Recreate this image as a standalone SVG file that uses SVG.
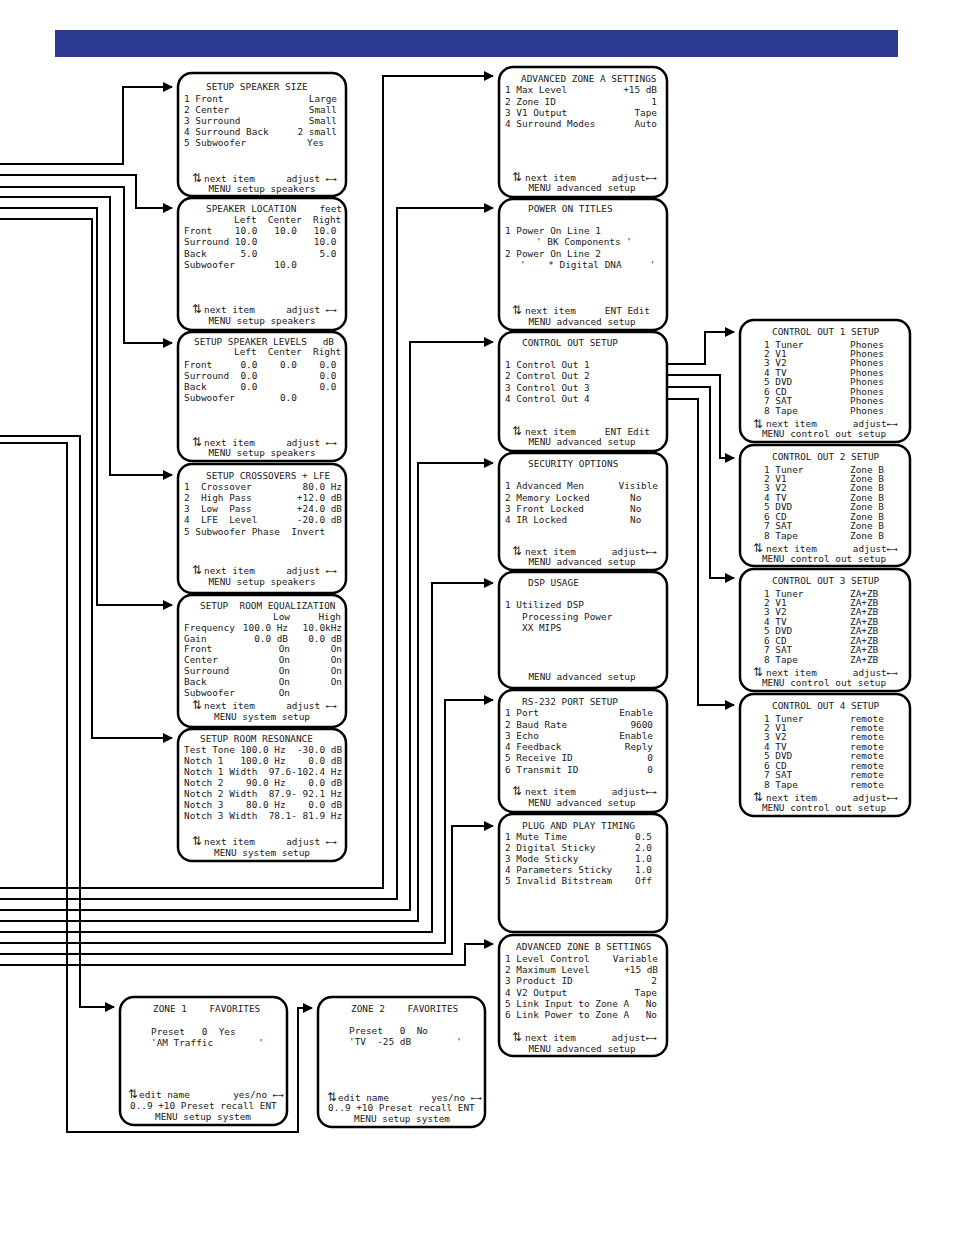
<svg xmlns="http://www.w3.org/2000/svg" width="954" height="1235" viewBox="0 0 954 1235">
<style>
.box{fill:#fff;stroke:#000;stroke-width:2.5}
text{font-family:"DejaVu Sans Mono","Liberation Mono",monospace;font-size:9.4px;fill:#1a1a1a;white-space:pre}
.e{text-anchor:end}
.m{text-anchor:middle}
.a{font-family:"DejaVu Sans",sans-serif;font-size:12px}
.c{fill:none;stroke:#000;stroke-width:2;marker-end:url(#ah)}
</style>
<defs>
<marker id="ah" viewBox="0 0 10 10" refX="9" refY="5" markerWidth="5" markerHeight="5" orient="auto" markerUnits="strokeWidth">
<path d="M0,0 L10,5 L0,10 z" fill="#000"/>
</marker>
</defs>
<rect x="55" y="30" width="843" height="27" fill="#2b3990"/>

<g id="connectors">
<path class="c" d="M0,164 H123 V87 H172"/>
<path class="c" d="M0,175 H136 V208 H172"/>
<path class="c" d="M0,187 H124 V343 H172"/>
<path class="c" d="M0,197 H110 V475 H172"/>
<path class="c" d="M0,208 H97 V605 H172"/>
<path class="c" d="M0,219 H92 V738 H172"/>
<path class="c" d="M0,436 H80 V1007 H114"/>
<path class="c" d="M0,443 H67 V1132 H298 V1008 H312"/>
<path class="c" d="M0,888 H383 V76 H493"/>
<path class="c" d="M0,899 H397 V208 H493"/>
<path class="c" d="M0,910 H410 V342 H493"/>
<path class="c" d="M0,921 H418 V463 H493"/>
<path class="c" d="M0,932 H432 V583 H493"/>
<path class="c" d="M0,943 H445 V700 H493"/>
<path class="c" d="M0,954 H452 V826 H493"/>
<path class="c" d="M0,965 H465 V944 H493"/>
<path class="c" d="M667,364 H705 V332 H734"/>
<path class="c" d="M667,375 H720 V458 H734"/>
<path class="c" d="M667,387 H710 V578 H734"/>
<path class="c" d="M667,399 H698 V705 H734"/>
</g>

<g id="speaker-size">
<rect class="box" x="178" y="73" width="168" height="123" rx="14"/>
<text x="206" y="89.5">SETUP SPEAKER SIZE</text>
<text x="184" y="101.5">1 Front</text><text class="e" x="337" y="101.5">Large</text>
<text x="184" y="112.5">2 Center</text><text class="e" x="337" y="112.5">Small</text>
<text x="184" y="123.5">3 Surround</text><text class="e" x="337" y="123.5">Small</text>
<text x="184" y="134.5">4 Surround Back</text><text class="e" x="337" y="134.5">2 small</text>
<text x="184" y="145.5">5 Subwoofer</text><text x="307" y="145.5">Yes</text>
<text class="a" x="192" y="182">⇅</text><text x="204" y="181.5">next item</text><text class="e" x="337" y="181.5">adjust ←→</text>
<text class="m" x="262" y="191.5">MENU setup speakers</text>
</g>

<g id="speaker-location">
<rect class="box" x="178" y="198" width="168" height="132" rx="14"/>
<text x="206" y="211.5">SPEAKER LOCATION</text><text class="e" x="342" y="211.5">feet</text>
<text x="234" y="222.5">Left  Center  Right</text>
<text x="184" y="233.5">Front    10.0   10.0   10.0</text>
<text x="184" y="244.5">Surround 10.0          10.0</text>
<text x="184" y="256.5">Back      5.0           5.0</text>
<text x="184" y="267.5">Subwoofer       10.0</text>
<text class="a" x="192" y="313">⇅</text><text x="204" y="312.5">next item</text><text class="e" x="337" y="312.5">adjust ←→</text>
<text class="m" x="262" y="324">MENU setup speakers</text>
</g>

<g id="speaker-levels">
<rect class="box" x="178" y="332" width="168" height="129" rx="14"/>
<text x="194" y="344.5">SETUP SPEAKER LEVELS</text><text class="e" x="334" y="344.5">dB</text>
<text x="234" y="354.5">Left  Center  Right</text>
<text x="184" y="367.5">Front     0.0    0.0    0.0</text>
<text x="184" y="378.5">Surround  0.0           0.0</text>
<text x="184" y="389.5">Back      0.0           0.0</text>
<text x="184" y="400.5">Subwoofer        0.0</text>
<text class="a" x="192" y="446">⇅</text><text x="204" y="445.5">next item</text><text class="e" x="337" y="445.5">adjust ←→</text>
<text class="m" x="262" y="456">MENU setup speakers</text>
</g>

<g id="crossovers">
<rect class="box" x="178" y="464" width="168" height="129" rx="14"/>
<text x="206" y="478.5">SETUP CROSSOVERS + LFE</text>
<text x="184" y="489.5">1  Crossover</text><text class="e" x="342" y="489.5">80.0 Hz</text>
<text x="184" y="500.5">2  High Pass</text><text class="e" x="342" y="500.5">+12.0 dB</text>
<text x="184" y="511.5">3  Low  Pass</text><text class="e" x="342" y="511.5">+24.0 dB</text>
<text x="184" y="522.5">4  LFE  Level</text><text class="e" x="342" y="522.5">-20.0 dB</text>
<text x="184" y="534.5">5 Subwoofer Phase  Invert</text>
<text class="a" x="192" y="574">⇅</text><text x="204" y="573.5">next item</text><text class="e" x="337" y="573.5">adjust ←→</text>
<text class="m" x="262" y="584.5">MENU setup speakers</text>
</g>

<g id="room-eq">
<rect class="box" x="178" y="595" width="168" height="132" rx="14"/>
<text x="200" y="608.5">SETUP  ROOM EQUALIZATION</text>
<text class="e" x="290" y="619.5">Low</text><text class="e" x="341" y="619.5">High</text>
<text x="184" y="630.5">Frequency</text><text class="e" x="288" y="630.5">100.0 Hz</text><text class="e" x="342" y="630.5">10.0kHz</text>
<text x="184" y="641.5">Gain</text><text class="e" x="288" y="641.5">0.0 dB</text><text class="e" x="342" y="641.5">0.0 dB</text>
<text x="184" y="651.5">Front</text><text class="e" x="290" y="651.5">On</text><text class="e" x="342" y="651.5">On</text>
<text x="184" y="662.5">Center</text><text class="e" x="290" y="662.5">On</text><text class="e" x="342" y="662.5">On</text>
<text x="184" y="673.5">Surround</text><text class="e" x="290" y="673.5">On</text><text class="e" x="342" y="673.5">On</text>
<text x="184" y="684.5">Back</text><text class="e" x="290" y="684.5">On</text><text class="e" x="342" y="684.5">On</text>
<text x="184" y="695.5">Subwoofer</text><text class="e" x="290" y="695.5">On</text>
<text class="a" x="192" y="709">⇅</text><text x="204" y="708.5">next item</text><text class="e" x="337" y="708.5">adjust ←→</text>
<text class="m" x="262" y="719.5">MENU system setup</text>
</g>

<g id="room-resonance">
<rect class="box" x="178" y="729" width="168" height="132" rx="14"/>
<text x="200" y="741.5">SETUP ROOM RESONANCE</text>
<text x="184" y="752.5">Test Tone 100.0 Hz  -30.0 dB</text>
<text x="184" y="763.5">Notch 1   100.0 Hz    0.0 dB</text>
<text x="184" y="774.5">Notch 1 Width  97.6-102.4 Hz</text>
<text x="184" y="785.5">Notch 2    90.0 Hz    0.0 dB</text>
<text x="184" y="796.5">Notch 2 Width  87.9- 92.1 Hz</text>
<text x="184" y="807.5">Notch 3    80.0 Hz    0.0 dB</text>
<text x="184" y="818.5">Notch 3 Width  78.1- 81.9 Hz</text>
<text class="a" x="192" y="845">⇅</text><text x="204" y="844.5">next item</text><text class="e" x="337" y="844.5">adjust ←→</text>
<text class="m" x="262" y="855.5">MENU system setup</text>
</g>

<g id="zone1-favorites">
<rect class="box" x="120" y="997" width="167" height="128" rx="14"/>
<text x="153" y="1011.5">ZONE 1    FAVORITES</text>
<text x="151" y="1034.5">Preset   0  Yes</text>
<text x="151" y="1045.5">'AM Traffic        '</text>
<text class="a" x="128" y="1098">⇅</text><text x="139" y="1097.5">edit name</text><text class="e" x="284" y="1097.5">yes/no ←→</text>
<text x="130" y="1109">0..9 +10 Preset recall ENT</text>
<text class="m" x="203" y="1119.5">MENU setup system</text>
</g>

<g id="zone2-favorites">
<rect class="box" x="318" y="997" width="167" height="130" rx="14"/>
<text x="351" y="1011.5">ZONE 2    FAVORITES</text>
<text x="349" y="1033.5">Preset   0  No</text>
<text x="349" y="1044.5">'TV  -25 dB        '</text>
<text class="a" x="327" y="1101">⇅</text><text x="338" y="1100.5">edit name</text><text class="e" x="482" y="1100.5">yes/no ←→</text>
<text x="328" y="1111">0..9 +10 Preset recall ENT</text>
<text class="m" x="402" y="1121.5">MENU setup system</text>
</g>

<g id="adv-zone-a">
<rect class="box" x="499" y="67" width="168" height="130" rx="14"/>
<text x="521" y="81.5">ADVANCED ZONE A SETTINGS</text>
<text x="505" y="92.5">1 Max Level</text><text class="e" x="657" y="92.5">+15 dB</text>
<text x="505" y="104.5">2 Zone ID</text><text class="e" x="657" y="104.5">1</text>
<text x="505" y="115.5">3 V1 Output</text><text class="e" x="657" y="115.5">Tape</text>
<text x="505" y="126.5">4 Surround Modes</text><text class="e" x="657" y="126.5">Auto</text>
<text class="a" x="512" y="181">⇅</text><text x="525" y="180.5">next item</text><text class="e" x="657" y="180.5">adjust←→</text>
<text class="m" x="582" y="191">MENU advanced setup</text>
</g>

<g id="power-on-titles">
<rect class="box" x="499" y="199" width="168" height="131" rx="14"/>
<text x="528" y="211.5">POWER ON TITLES</text>
<text x="505" y="233.5">1 Power On Line 1</text>
<text x="536" y="244.5">' BK Components '</text>
<text x="505" y="256.5">2 Power On Line 2</text>
<text x="520" y="267.5">'    * Digital DNA     '</text>
<text class="a" x="512" y="314">⇅</text><text x="525" y="313.5">next item</text><text class="e" x="650" y="313.5">ENT Edit</text>
<text class="m" x="582" y="324.5">MENU advanced setup</text>
</g>

<g id="control-out-setup">
<rect class="box" x="499" y="332" width="168" height="119" rx="14"/>
<text x="522" y="345.5">CONTROL OUT SETUP</text>
<text x="505" y="367.5">1 Control Out 1</text>
<text x="505" y="378.5">2 Control Out 2</text>
<text x="505" y="390.5">3 Control Out 3</text>
<text x="505" y="401.5">4 Control Out 4</text>
<text class="a" x="512" y="435">⇅</text><text x="525" y="434.5">next item</text><text class="e" x="650" y="434.5">ENT Edit</text>
<text class="m" x="582" y="445">MENU advanced setup</text>
</g>

<g id="security-options">
<rect class="box" x="499" y="453" width="168" height="117" rx="14"/>
<text x="528" y="466.5">SECURITY OPTIONS</text>
<text x="505" y="488.5">1 Advanced Men</text><text class="e" x="658" y="488.5">Visible</text>
<text x="505" y="500.5">2 Memory Locked</text><text x="630" y="500.5">No</text>
<text x="505" y="511.5">3 Front Locked</text><text x="630" y="511.5">No</text>
<text x="505" y="522.5">4 IR Locked</text><text x="630" y="522.5">No</text>
<text class="a" x="512" y="555">⇅</text><text x="525" y="554.5">next item</text><text class="e" x="657" y="554.5">adjust←→</text>
<text class="m" x="582" y="565">MENU advanced setup</text>
</g>

<g id="dsp-usage">
<rect class="box" x="499" y="572" width="168" height="116" rx="14"/>
<text x="528" y="585.5">DSP USAGE</text>
<text x="505" y="607.5">1 Utilized DSP</text>
<text x="522" y="619.5">Processing Power</text>
<text x="522" y="630.5">XX MIPS</text>
<text class="m" x="582" y="680">MENU advanced setup</text>
</g>

<g id="rs232-setup">
<rect class="box" x="499" y="690" width="168" height="122" rx="14"/>
<text x="522" y="704.5">RS-232 PORT SETUP</text>
<text x="505" y="715.5">1 Port</text><text class="e" x="653" y="715.5">Enable</text>
<text x="505" y="727.5">2 Baud Rate</text><text class="e" x="653" y="727.5">9600</text>
<text x="505" y="738.5">3 Echo</text><text class="e" x="653" y="738.5">Enable</text>
<text x="505" y="749.5">4 Feedback</text><text class="e" x="653" y="749.5">Reply</text>
<text x="505" y="760.5">5 Receive ID</text><text class="e" x="653" y="760.5">0</text>
<text x="505" y="772.5">6 Transmit ID</text><text class="e" x="653" y="772.5">0</text>
<text class="a" x="512" y="795">⇅</text><text x="525" y="794.5">next item</text><text class="e" x="657" y="794.5">adjust←→</text>
<text class="m" x="582" y="805.5">MENU advanced setup</text>
</g>

<g id="plug-and-play">
<rect class="box" x="499" y="814" width="168" height="118" rx="14"/>
<text x="522" y="828.5">PLUG AND PLAY TIMING</text>
<text x="505" y="839.5">1 Mute Time</text><text class="e" x="652" y="839.5">0.5</text>
<text x="505" y="850.5">2 Digital Sticky</text><text class="e" x="652" y="850.5">2.0</text>
<text x="505" y="861.5">3 Mode Sticky</text><text class="e" x="652" y="861.5">1.0</text>
<text x="505" y="872.5">4 Parameters Sticky</text><text class="e" x="652" y="872.5">1.0</text>
<text x="505" y="883.5">5 Invalid Bitstream</text><text class="e" x="652" y="883.5">Off</text>
</g>

<g id="adv-zone-b">
<rect class="box" x="499" y="935" width="168" height="121" rx="14"/>
<text x="516" y="949.5">ADVANCED ZONE B SETTINGS</text>
<text x="505" y="961.5">1 Level Control</text><text class="e" x="658" y="961.5">Variable</text>
<text x="505" y="972.5">2 Maximum Level</text><text class="e" x="658" y="972.5">+15 dB</text>
<text x="505" y="983.5">3 Product ID</text><text class="e" x="657" y="983.5">2</text>
<text x="505" y="995.5">4 V2 Output</text><text class="e" x="657" y="995.5">Tape</text>
<text x="505" y="1006.5">5 Link Input to Zone A</text><text class="e" x="657" y="1006.5">No</text>
<text x="505" y="1017.5">6 Link Power to Zone A</text><text class="e" x="657" y="1017.5">No</text>
<text class="a" x="512" y="1041">⇅</text><text x="525" y="1040.5">next item</text><text class="e" x="657" y="1040.5">adjust←→</text>
<text class="m" x="582" y="1051.5">MENU advanced setup</text>
</g>

<g id="control-out-1">
<rect class="box" x="740" y="320" width="170" height="122" rx="14"/>
<text x="772" y="334.5">CONTROL OUT 1 SETUP</text>
<text x="764" y="347.5">1 Tuner</text><text x="850" y="347.5">Phones</text>
<text x="764" y="356.9">2 V1</text><text x="850" y="356.9">Phones</text>
<text x="764" y="366.4">3 V2</text><text x="850" y="366.4">Phones</text>
<text x="764" y="375.8">4 TV</text><text x="850" y="375.8">Phones</text>
<text x="764" y="385.3">5 DVD</text><text x="850" y="385.3">Phones</text>
<text x="764" y="394.7">6 CD</text><text x="850" y="394.7">Phones</text>
<text x="764" y="404.2">7 SAT</text><text x="850" y="404.2">Phones</text>
<text x="764" y="413.6">8 Tape</text><text x="850" y="413.6">Phones</text>
<text class="a" x="753" y="427.5">⇅</text><text x="766" y="427">next item</text><text class="e" x="898" y="427">adjust←→</text>
<text class="m" x="824" y="437">MENU control out setup</text>
</g>

<g id="control-out-2">
<rect class="box" x="740" y="445" width="170" height="121" rx="14"/>
<text x="772" y="459.5">CONTROL OUT 2 SETUP</text>
<text x="764" y="472.5">1 Tuner</text><text x="850" y="472.5">Zone B</text>
<text x="764" y="481.9">2 V1</text><text x="850" y="481.9">Zone B</text>
<text x="764" y="491.4">3 V2</text><text x="850" y="491.4">Zone B</text>
<text x="764" y="500.8">4 TV</text><text x="850" y="500.8">Zone B</text>
<text x="764" y="510.3">5 DVD</text><text x="850" y="510.3">Zone B</text>
<text x="764" y="519.7">6 CD</text><text x="850" y="519.7">Zone B</text>
<text x="764" y="529.2">7 SAT</text><text x="850" y="529.2">Zone B</text>
<text x="764" y="538.6">8 Tape</text><text x="850" y="538.6">Zone B</text>
<text class="a" x="753" y="552">⇅</text><text x="766" y="551.5">next item</text><text class="e" x="898" y="551.5">adjust←→</text>
<text class="m" x="824" y="561.5">MENU control out setup</text>
</g>

<g id="control-out-3">
<rect class="box" x="740" y="569" width="170" height="122" rx="14"/>
<text x="772" y="583.5">CONTROL OUT 3 SETUP</text>
<text x="764" y="596.5">1 Tuner</text><text x="850" y="596.5">ZA+ZB</text>
<text x="764" y="605.9">2 V1</text><text x="850" y="605.9">ZA+ZB</text>
<text x="764" y="615.4">3 V2</text><text x="850" y="615.4">ZA+ZB</text>
<text x="764" y="624.8">4 TV</text><text x="850" y="624.8">ZA+ZB</text>
<text x="764" y="634.3">5 DVD</text><text x="850" y="634.3">ZA+ZB</text>
<text x="764" y="643.7">6 CD</text><text x="850" y="643.7">ZA+ZB</text>
<text x="764" y="653.2">7 SAT</text><text x="850" y="653.2">ZA+ZB</text>
<text x="764" y="662.6">8 Tape</text><text x="850" y="662.6">ZA+ZB</text>
<text class="a" x="753" y="676">⇅</text><text x="766" y="675.5">next item</text><text class="e" x="898" y="675.5">adjust←→</text>
<text class="m" x="824" y="685.5">MENU control out setup</text>
</g>

<g id="control-out-4">
<rect class="box" x="740" y="694" width="170" height="122" rx="14"/>
<text x="772" y="708.5">CONTROL OUT 4 SETUP</text>
<text x="764" y="721.5">1 Tuner</text><text x="850" y="721.5">remote</text>
<text x="764" y="730.9">2 V1</text><text x="850" y="730.9">remote</text>
<text x="764" y="740.4">3 V2</text><text x="850" y="740.4">remote</text>
<text x="764" y="749.8">4 TV</text><text x="850" y="749.8">remote</text>
<text x="764" y="759.3">5 DVD</text><text x="850" y="759.3">remote</text>
<text x="764" y="768.7">6 CD</text><text x="850" y="768.7">remote</text>
<text x="764" y="778.2">7 SAT</text><text x="850" y="778.2">remote</text>
<text x="764" y="787.6">8 Tape</text><text x="850" y="787.6">remote</text>
<text class="a" x="753" y="801">⇅</text><text x="766" y="800.5">next item</text><text class="e" x="898" y="800.5">adjust←→</text>
<text class="m" x="824" y="810.5">MENU control out setup</text>
</g>
</svg>
